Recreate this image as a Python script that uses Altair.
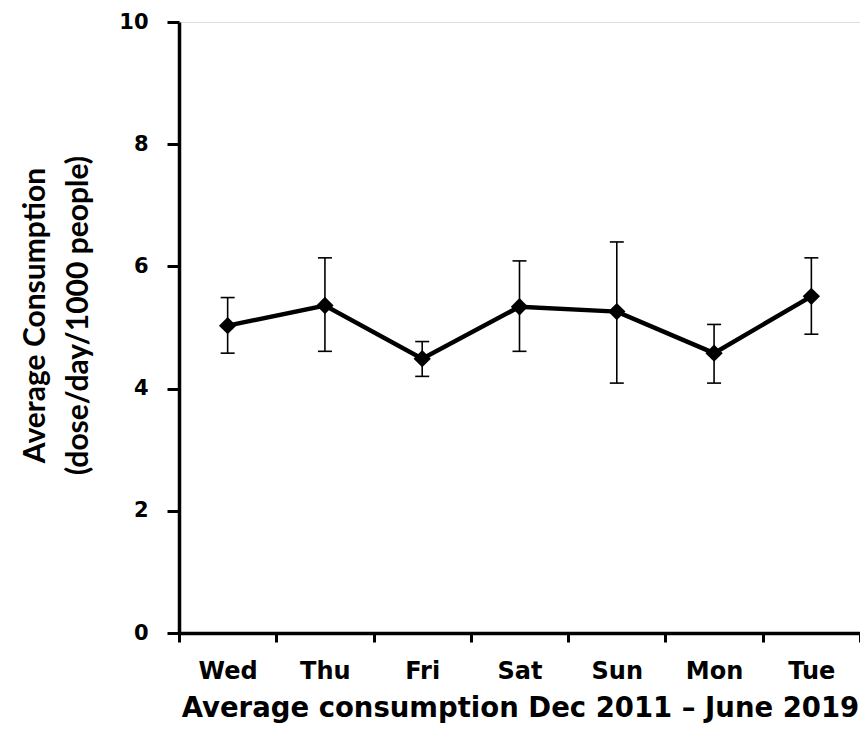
import altair as alt
import pandas as pd

days = ["Wed", "Thu", "Fri", "Sat", "Sun", "Mon", "Tue"]
mean_use = [5.03, 5.36, 4.49, 5.34, 5.26, 4.58, 5.51]
err_low = [4.58, 4.61, 4.20, 4.61, 4.09, 4.09, 4.89]
err_high = [5.49, 6.14, 4.77, 6.09, 6.40, 5.05, 6.14]

FONT = "DejaVu Sans"
TITLE_FONT = "Lato"

df = pd.DataFrame({
    "day": days,
    "pos": [i + 0.5 for i in range(len(days))],
    "mean": mean_use,
    "lo": err_low,
    "hi": err_high,
})

label_expr = "[" + ",".join(f"'{d}'" for d in days) + ",''][datum.value]"

common = dict(
    grid=False, labelFontWeight="bold", titleFontWeight="bold",
    labelColor="black", titleColor="black", domainColor="black", tickColor="black",
    domainWidth=3.5, tickWidth=3,
)

x_axis = alt.Axis(
    values=list(range(len(days) + 1)), labelExpr=label_expr, labelOffset=48.6,
    labelFlush=False, title="Average consumption  Dec 2011 – June 2019",
    titleFont=FONT, titleFontSize=27.5, titlePadding=11, titleX=341,
    labelFont=FONT, labelFontSize=24, labelPadding=17, tickSize=9, **common,
)
y_axis = alt.Axis(
    values=[0, 2, 4, 6, 8, 10], format="d",
    title=["Average Consumption", "(dose/day/1000 people)"],
    titleFont=TITLE_FONT, titleFontSize=30, titleLineHeight=43, titlePadding=25,
    titleY=293,
    labelFont=FONT, labelFontSize=21, labelPadding=19, tickSize=12, **common,
)

x = alt.X("pos:Q", scale=alt.Scale(domain=[0, len(days)], nice=False), axis=x_axis)
y = alt.Y("mean:Q", scale=alt.Scale(domain=[0, 10], nice=False), axis=y_axis)

base = alt.Chart(df)

bars = base.mark_rule(color="black", strokeWidth=1.6).encode(
    x=x, y=alt.Y("lo:Q"), y2=alt.Y2("hi"))
cap_hi = base.mark_rule(color="black", strokeWidth=1.6, xOffset=-7, x2Offset=7).encode(
    x=x, x2=alt.X2("pos"), y=alt.Y("hi:Q"))
cap_lo = base.mark_rule(color="black", strokeWidth=1.6, xOffset=-7, x2Offset=7).encode(
    x=x, x2=alt.X2("pos"), y=alt.Y("lo:Q"))
line = base.mark_line(color="black", strokeWidth=4.5).encode(x=x, y=y)
points = base.mark_point(shape="diamond", filled=True, color="black", size=300, opacity=1).encode(
    x=x, y=y)

chart = (bars + cap_hi + cap_lo + line + points).properties(
    width=681, height=611,
    autosize=alt.AutoSizeParams(type="none"),
    padding={"left": 171, "top": 14, "right": 0, "bottom": 92},
).configure_view(stroke=None).configure(background="white")

chart.save("out.html", embed_options={"renderer": "svg", "actions": False})
